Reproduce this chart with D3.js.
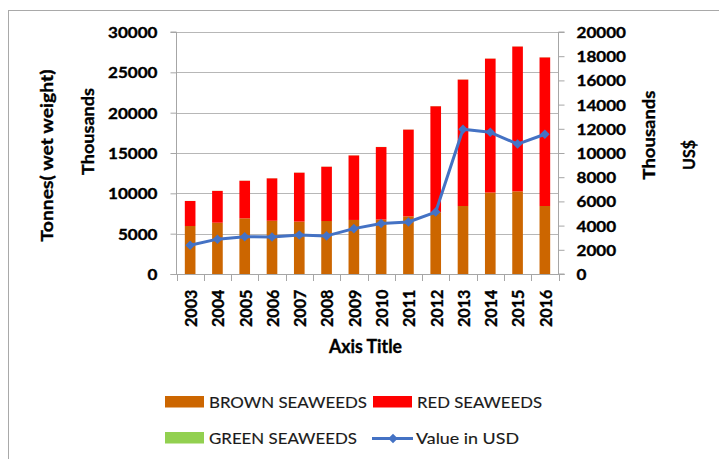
<!DOCTYPE html>
<html>
<head>
<meta charset="utf-8">
<script src="https://cdn.jsdelivr.net/npm/d3@7"></script>
<style>
  html, body { margin: 0; padding: 0; background: #fff; }
  svg { display: block; font-family: Lato, "Open Sans", sans-serif; }
  .heavy { stroke: #000; stroke-width: 0.35px; paint-order: stroke; }
</style>
</head>
<body>
<svg id="chart" width="719" height="459"></svg>
<script>
// ---- data (tonnes in thousands, value in thousands US$) ----
const years = ["2003","2004","2005","2006","2007","2008","2009","2010","2011","2012","2013","2014","2015","2016"];
const brownSeaweeds = [5950, 6360, 6900, 6600, 6500, 6570, 6700, 6750, 7150, 7650, 8430, 10100, 10250, 8430];
const redSeaweeds   = [3100, 3940, 4660, 5260, 6060, 6730, 8000, 8990, 10750, 13150, 15670, 16600, 17950, 18420];
const greenSeaweeds = [12, 15, 16, 15, 17, 16, 18, 16, 17, 18, 19, 17, 16, 18];
const valueUSD      = [2380, 2880, 3080, 3060, 3230, 3150, 3750, 4180, 4300, 5120, 11960, 11710, 10740, 11550];
const leftTicks  = [0, 5000, 10000, 15000, 20000, 25000, 30000];
const rightTicks = [0, 2000, 4000, 6000, 8000, 10000, 12000, 14000, 16000, 18000, 20000];

const svg = d3.select("#chart");
const L = 176.5, R = 558.5, T = 32, B = 274;
const gridCol = "#b7b7b7", axisCol = "#a6a6a6";

// outer frame (only top & left visible)
svg.append("rect").attr("x", 8.5).attr("y", 10.5).attr("width", 800).attr("height", 600)
  .attr("fill", "none").attr("stroke", "#a9a9a9").attr("stroke-width", 1);

const x = d3.scaleBand().domain(years).range([L, R]).padding(0);
const yL = d3.scaleLinear().domain([0, 30000]).range([B, T]);
const yR = d3.scaleLinear().domain([0, 20000]).range([B, T]);

// gridlines
svg.append("g").selectAll("line").data(leftTicks.filter(d => d > 0)).join("line")
  .attr("x1", L).attr("x2", R)
  .attr("y1", d => Math.round(yL(d)) + 0.5).attr("y2", d => Math.round(yL(d)) + 0.5)
  .attr("stroke", gridCol).attr("stroke-width", 1);

// stacked bars
const rows = years.map((y, i) => ({ year: y, brown: brownSeaweeds[i], red: redSeaweeds[i], green: greenSeaweeds[i] }));
const stack = d3.stack().keys(["brown", "red", "green"])(rows);
const colors = { brown: "#cc6600", red: "#ff0000", green: "#92d050" };
const bw = x.bandwidth() * 0.39;
svg.append("g").selectAll("g").data(stack).join("g")
  .attr("fill", d => colors[d.key])
  .selectAll("rect").data(d => d).join("rect")
  .attr("x", d => x(d.data.year) + x.bandwidth() / 2 - bw / 2)
  .attr("width", bw)
  .attr("y", d => yL(d[1]))
  .attr("height", d => Math.max(0, yL(d[0]) - yL(d[1])));

// left axis
const gl = svg.append("g").attr("transform", `translate(${L},0)`)
  .call(d3.axisLeft(yL).tickValues(leftTicks).tickSize(6).tickPadding(13).tickFormat(d3.format("d")));
gl.select(".domain").attr("stroke", axisCol).attr("d", `M-6,${T}H0V${B}`);
gl.selectAll(".tick line").attr("stroke", axisCol);
gl.selectAll(".tick text").attr("fill", "#000").attr("font-size", 15).attr("font-weight", 700)
  .attr("class", "heavy").attr("dy", "0.36em").attr("font-family", "Lato")
  .attr("textLength", function () { return this.textContent.length * 9.9; })
  .attr("lengthAdjust", "spacingAndGlyphs");

// right axis
const gr = svg.append("g").attr("transform", `translate(${R},0)`)
  .call(d3.axisRight(yR).tickValues(rightTicks).tickSize(6).tickPadding(12).tickFormat(d3.format("d")));
gr.select(".domain").attr("stroke", axisCol).attr("d", `M6,${T}H0V${B}H6`);
gr.selectAll(".tick line").attr("stroke", axisCol);
gr.selectAll(".tick text").attr("fill", "#000").attr("font-size", 15).attr("font-weight", 700)
  .attr("class", "heavy").attr("dy", "0.36em").attr("font-family", "Lato")
  .attr("textLength", function () { return this.textContent.length * 9.9; })
  .attr("lengthAdjust", "spacingAndGlyphs");

// bottom axis
const boundaries = years.map(y => x(y)).concat([R]);
svg.append("line").attr("x1", L - 6).attr("x2", R + 6).attr("y1", B + 0.5).attr("y2", B + 0.5)
  .attr("stroke", axisCol);
svg.append("g").selectAll("line").data(boundaries).join("line")
  .attr("x1", d => Math.round(d) + 0.5).attr("x2", d => Math.round(d) + 0.5)
  .attr("y1", B).attr("y2", B + 7).attr("stroke", axisCol);
svg.append("g").selectAll("text").data(years).join("text")
  .attr("class", "heavy")
  .attr("transform", d => `translate(${x(d) + x.bandwidth() / 2 + 6.8},289.5) rotate(-90)`)
  .attr("text-anchor", "end").attr("font-size", 17).attr("font-weight", 700)
  .attr("textLength", 37.5).attr("lengthAdjust", "spacingAndGlyphs")
  .text(d => d);

// value line
const line = d3.line().x((d, i) => x(years[i]) + x.bandwidth() / 2).y(d => yR(d));
svg.append("path").datum(valueUSD).attr("d", line)
  .attr("fill", "none").attr("stroke", "#4472c4").attr("stroke-width", 3).attr("stroke-linejoin", "round");
const diamond = d3.symbol().type(d3.symbolDiamond2).size(58);
svg.append("g").selectAll("path").data(valueUSD).join("path")
  .attr("transform", (d, i) => `translate(${x(years[i]) + x.bandwidth() / 2},${yR(d)})`)
  .attr("d", diamond).attr("fill", "#4472c4");

// axis titles
function vtitle(txt, bx, cy, len, size) {
  svg.append("text").attr("class", "heavy").attr("transform", `translate(${bx},${cy}) rotate(-90)`)
    .attr("text-anchor", "middle").attr("font-size", size).attr("font-weight", 700)
    .attr("textLength", len).attr("lengthAdjust", "spacingAndGlyphs").text(txt);
}
vtitle("Tonnes( wet weight)", 52.5, 155.5, 172, 17.5);
vtitle("Thousands", 94, 131.5, 87, 17.5);
vtitle("Thousands", 655, 135, 89, 17.5);
vtitle("US$", 695, 155, 30, 17.5);
svg.append("text").attr("class", "heavy").attr("x", 365.5).attr("y", 352.5).attr("text-anchor", "middle")
  .attr("font-size", 18).attr("font-weight", 700)
  .attr("textLength", 73).attr("lengthAdjust", "spacingAndGlyphs").text("Axis Title");

// legend
const legendItems = [
  { name: "BROWN SEAWEEDS", type: "rect", color: colors.brown, x: 165, y: 396, len: 158 },
  { name: "RED SEAWEEDS", type: "rect", color: colors.red, x: 373, y: 396, len: 125 },
  { name: "GREEN SEAWEEDS", type: "rect", color: colors.green, x: 165, y: 432, len: 148 },
  { name: "Value in USD", type: "line", color: "#4472c4", x: 372, y: 432, len: 103 }
];
const lg = svg.append("g").selectAll("g").data(legendItems).join("g");
lg.filter(d => d.type === "rect").append("rect")
  .attr("x", d => d.x).attr("y", d => d.y).attr("width", 39).attr("height", 11.5).attr("fill", d => d.color);
lg.filter(d => d.type === "line").append("line")
  .attr("x1", d => d.x).attr("x2", d => d.x + 41).attr("y1", d => d.y + 6.5).attr("y2", d => d.y + 6.5)
  .attr("stroke", d => d.color).attr("stroke-width", 3);
lg.filter(d => d.type === "line").append("path")
  .attr("transform", d => `translate(${d.x + 21},${d.y + 6.5})`)
  .attr("d", diamond).attr("fill", d => d.color);
lg.append("text").attr("x", d => d.x + 44).attr("y", d => d.y + 12)
  .attr("font-size", 16).attr("fill", "#1a1a1a")
  .attr("stroke", "#1a1a1a").attr("stroke-width", 0.15)
  .attr("textLength", d => d.len).attr("lengthAdjust", "spacingAndGlyphs")
  .text(d => d.name);
</script>
</body>
</html>
